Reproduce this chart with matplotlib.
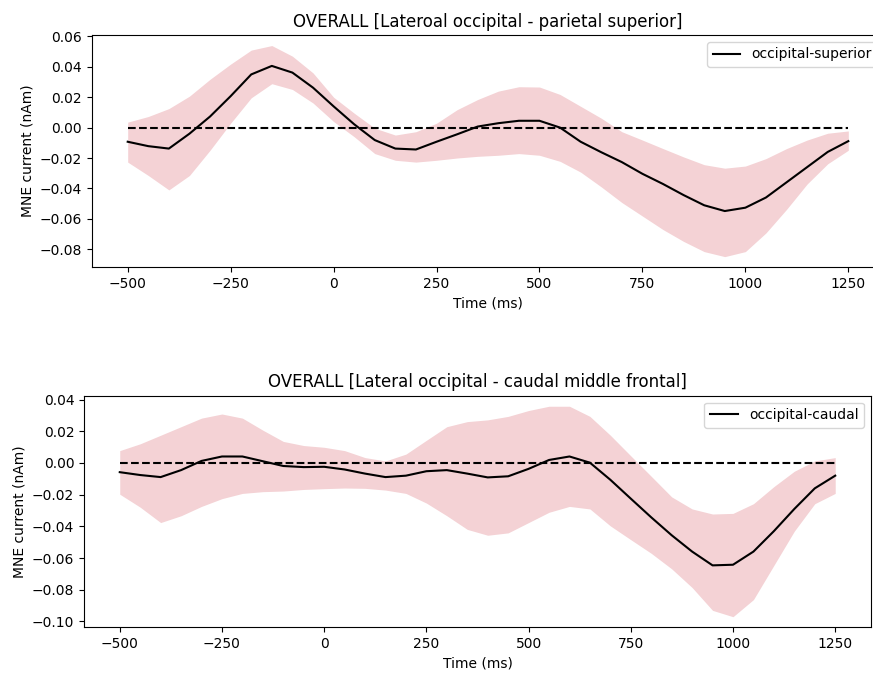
import matplotlib
matplotlib.use("Agg")
import matplotlib.pyplot as plt

# time axis (ms)
times = [-500, -450, -400, -350, -300, -250, -200, -150, -100, -50,
         0, 50, 100, 150, 200, 250, 300, 350, 400, 450,
         500, 550, 600, 650, 700, 750, 800, 850, 900, 950,
         1000, 1050, 1100, 1150, 1200, 1250]

# occipital - parietal superior
sup_mean = [-0.0093, -0.0122, -0.0138, -0.0040, 0.0073, 0.0207, 0.0350, 0.0406, 0.0362, 0.0263,
            0.0140, 0.0022, -0.0082, -0.0138, -0.0144, -0.0093, -0.0044, 0.0007, 0.0029, 0.0045,
            0.0045, 0.0000, -0.0093, -0.0162, -0.0227, -0.0304, -0.0371, -0.0444, -0.0511, -0.0549,
            -0.0527, -0.0460, -0.0360, -0.0260, -0.0160, -0.0089]
sup_upper = [0.0036, 0.0073, 0.0125, 0.0207, 0.0318, 0.0418, 0.0510, 0.0540, 0.0470, 0.0360,
             0.0200, 0.0095, -0.0004, -0.0049, -0.0027, 0.0029, 0.0118, 0.0185, 0.0240, 0.0269,
             0.0267, 0.0218, 0.0140, 0.0062, -0.0027, -0.0082, -0.0138, -0.0193, -0.0244, -0.0267,
             -0.0253, -0.0204, -0.0138, -0.0082, -0.0037, -0.0022]
sup_lower = [-0.0227, -0.0315, -0.0410, -0.0315, -0.0149, 0.0029, 0.0196, 0.0289, 0.0251, 0.0162,
             0.0040, -0.0060, -0.0171, -0.0215, -0.0227, -0.0215, -0.0200, -0.0189, -0.0182, -0.0171,
             -0.0182, -0.0222, -0.0293, -0.0390, -0.0493, -0.0582, -0.0671, -0.0749, -0.0816, -0.0849,
             -0.0816, -0.0693, -0.0538, -0.0371, -0.0238, -0.0149]

# occipital - caudal middle frontal
cau_mean = [-0.0058, -0.0076, -0.0089, -0.0045, 0.0013, 0.0041, 0.0041, 0.0011, -0.0019, -0.0026,
            -0.0024, -0.0041, -0.0067, -0.0089, -0.0080, -0.0052, -0.0045, -0.0067, -0.0091, -0.0084,
            -0.0037, 0.0019, 0.0041, 0.0002, -0.0106, -0.0225, -0.0343, -0.0456, -0.0559, -0.0646,
            -0.0642, -0.0559, -0.0430, -0.0290, -0.0160, -0.0080]
cau_upper = [0.0078, 0.0121, 0.0175, 0.0229, 0.0283, 0.0309, 0.0283, 0.0207, 0.0136, 0.0110,
             0.0099, 0.0078, 0.0034, 0.0013, 0.0056, 0.0143, 0.0229, 0.0261, 0.0272, 0.0294,
             0.0331, 0.0358, 0.0358, 0.0294, 0.0175, 0.0045, -0.0084, -0.0214, -0.0290, -0.0322,
             -0.0318, -0.0257, -0.0149, -0.0052, 0.0013, 0.0034]
cau_lower = [-0.0197, -0.0279, -0.0376, -0.0333, -0.0274, -0.0225, -0.0192, -0.0181, -0.0177, -0.0167,
             -0.0162, -0.0158, -0.0160, -0.0171, -0.0192, -0.0253, -0.0333, -0.0419, -0.0456, -0.0441,
             -0.0376, -0.0311, -0.0274, -0.0290, -0.0397, -0.0484, -0.0570, -0.0668, -0.0786, -0.0930,
             -0.0970, -0.0862, -0.0646, -0.0430, -0.0257, -0.0192]

fig = plt.figure(figsize=(8.73, 6.73), dpi=100)

# the two panels (top one runs a little past the right edge, as in the screenshot)
ax1 = fig.add_axes([0.105, 0.603, 0.908, 0.345])
ax2 = fig.add_axes([0.0962, 0.068, 0.9015, 0.344])

panels = [
    (ax1, sup_mean, sup_lower, sup_upper, "occipital-superior",
     "OVERALL [Lateroal occipital - parietal superior]"),
    (ax2, cau_mean, cau_lower, cau_upper, "occipital-caudal",
     "OVERALL [Lateral occipital - caudal middle frontal]"),
]

for ax, mean, lower, upper, label, title in panels:
    ax.fill_between(times, lower, upper, color="#f4d2d5", linewidth=0)
    ax.plot(times, mean, color="k", label=label)
    ax.plot([times[0], times[-1]], [0, 0], "k--")
    ax.set_xticks([-500, -250, 0, 250, 500, 750, 1000, 1250])
    ax.set_xlabel("Time (ms)")
    ax.set_ylabel("MNE current (nAm)")
    ax.set_title(title)
    ax.legend(loc="upper right")

ax1.set_yticks([0.06, 0.04, 0.02, 0.0, -0.02, -0.04, -0.06, -0.08])
ax2.set_yticks([0.04, 0.02, 0.0, -0.02, -0.04, -0.06, -0.08, -0.10])

fig.savefig("out.png", dpi=100)
